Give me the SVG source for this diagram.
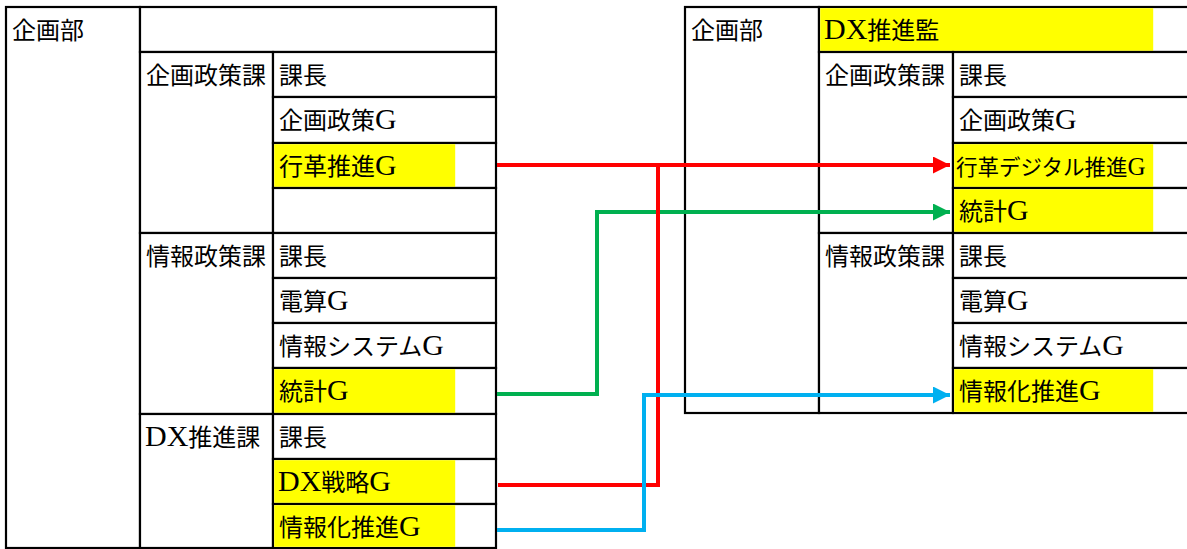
<svg xmlns="http://www.w3.org/2000/svg" width="1187" height="549" viewBox="0 0 1187 549">
<style>
.bg{fill:#fff}
.cell{fill:#fff;stroke:#000;stroke-width:2.2}
.hl{fill:#ffff00}
.t{font-family:"Liberation Serif","Noto Sans CJK JP",serif;font-size:24px;fill:#000}
.l{font-size:30px}
.con{fill:none;stroke-width:4;stroke-linejoin:miter}
</style>
<defs>
<marker id="arR" viewBox="0 0 10 10" refX="10" refY="5" markerUnits="userSpaceOnUse" markerWidth="18" markerHeight="17" orient="auto"><path d="M0,0 L10,5 L0,10 Z" fill="#ff0000"/></marker>
<marker id="arG" viewBox="0 0 10 10" refX="10" refY="5" markerUnits="userSpaceOnUse" markerWidth="18" markerHeight="17" orient="auto"><path d="M0,0 L10,5 L0,10 Z" fill="#00b050"/></marker>
<marker id="arB" viewBox="0 0 10 10" refX="10" refY="5" markerUnits="userSpaceOnUse" markerWidth="18" markerHeight="17" orient="auto"><path d="M0,0 L10,5 L0,10 Z" fill="#00b0f0"/></marker>
</defs>
<rect class="bg" x="0" y="0" width="1187" height="549"/>

<!-- LEFT TABLE -->
<g id="L-kikakubu"><rect class="cell" x="6" y="7" width="134" height="541"/><text class="t" x="12" y="39">企画部</text></g>
<g id="L-top"><rect class="cell" x="140" y="7" width="356" height="45"/></g>

<g id="L-kikakuseisakuka"><rect class="cell" x="140" y="52" width="133" height="181"/><text class="t" x="146" y="84">企画政策課</text></g>
<g id="L-k-kacho"><rect class="cell" x="273" y="52" width="223" height="45"/><text class="t" x="279" y="84">課長</text></g>
<g id="L-k-kikakuG"><rect class="cell" x="273" y="97" width="223" height="46"/><text class="t" x="279" y="129">企画政策<tspan class="l">G</tspan></text></g>
<g id="L-gyokakuG"><rect class="cell" x="273" y="143" width="223" height="45"/><rect class="hl" x="274.2" y="144.2" width="181" height="42.6"/><text class="t" x="279" y="175">行革推進<tspan class="l">G</tspan></text></g>
<g id="L-k-empty"><rect class="cell" x="273" y="188" width="223" height="45"/></g>

<g id="L-johoseisakuka"><rect class="cell" x="140" y="233" width="133" height="181"/><text class="t" x="146" y="265">情報政策課</text></g>
<g id="L-j-kacho"><rect class="cell" x="273" y="233" width="223" height="45"/><text class="t" x="279" y="265">課長</text></g>
<g id="L-densanG"><rect class="cell" x="273" y="278" width="223" height="45"/><text class="t" x="279" y="310">電算<tspan class="l">G</tspan></text></g>
<g id="L-johosysG"><rect class="cell" x="273" y="323" width="223" height="45"/><text class="t" x="279" y="355">情報システム<tspan class="l">G</tspan></text></g>
<g id="L-tokeiG"><rect class="cell" x="273" y="368" width="223" height="46"/><rect class="hl" x="274.2" y="369.2" width="181" height="43.6"/><text class="t" x="279" y="400">統計<tspan class="l">G</tspan></text></g>

<g id="L-dxka"><rect class="cell" x="140" y="414" width="133" height="134"/><text class="t" x="145" y="446"><tspan class="l">DX</tspan>推進課</text></g>
<g id="L-d-kacho"><rect class="cell" x="273" y="414" width="223" height="45"/><text class="t" x="279" y="446">課長</text></g>
<g id="L-dxsenryakuG"><rect class="cell" x="273" y="459" width="223" height="45"/><rect class="hl" x="274.2" y="460.2" width="181" height="42.6"/><text class="t" x="278" y="491"><tspan class="l">DX</tspan>戦略<tspan class="l">G</tspan></text></g>
<g id="L-johokaG"><rect class="cell" x="273" y="504" width="223" height="44"/><rect class="hl" x="274.2" y="505.2" width="181" height="41.6"/><text class="t" x="279" y="536">情報化推進<tspan class="l">G</tspan></text></g>

<!-- RIGHT TABLE -->
<g id="R-kikakubu"><rect class="cell" x="685" y="7" width="134" height="406"/><text class="t" x="691" y="39">企画部</text></g>
<g id="R-dxkan"><rect class="cell" x="819" y="7" width="390" height="45"/><rect class="hl" x="820.2" y="8.2" width="333" height="42.6"/><text class="t" x="824" y="39"><tspan class="l">DX</tspan>推進監</text></g>

<g id="R-kikakuseisakuka"><rect class="cell" x="819" y="52" width="134" height="181"/><text class="t" x="825" y="84">企画政策課</text></g>
<g id="R-k-kacho"><rect class="cell" x="953" y="52" width="256" height="45"/><text class="t" x="959" y="84">課長</text></g>
<g id="R-k-kikakuG"><rect class="cell" x="953" y="97" width="256" height="46"/><text class="t" x="959" y="129">企画政策<tspan class="l">G</tspan></text></g>
<g id="R-gyokakuDigitalG"><rect class="cell" x="953" y="143" width="256" height="45"/><rect class="hl" x="954.2" y="144.2" width="199" height="42.6"/><text class="t" x="956" y="175" style="font-size:21.5px">行革デジタル推進<tspan style="font-size:25px">G</tspan></text></g>
<g id="R-tokeiG"><rect class="cell" x="953" y="188" width="256" height="45"/><rect class="hl" x="954.2" y="189.2" width="199" height="42.6"/><text class="t" x="959" y="220">統計<tspan class="l">G</tspan></text></g>

<g id="R-johoseisakuka"><rect class="cell" x="819" y="233" width="134" height="180"/><text class="t" x="825" y="265">情報政策課</text></g>
<g id="R-j-kacho"><rect class="cell" x="953" y="233" width="256" height="45"/><text class="t" x="959" y="265">課長</text></g>
<g id="R-densanG"><rect class="cell" x="953" y="278" width="256" height="45"/><text class="t" x="959" y="310">電算<tspan class="l">G</tspan></text></g>
<g id="R-johosysG"><rect class="cell" x="953" y="323" width="256" height="45"/><text class="t" x="959" y="355">情報システム<tspan class="l">G</tspan></text></g>
<g id="R-johokaG"><rect class="cell" x="953" y="368" width="256" height="45"/><rect class="hl" x="954.2" y="369.2" width="199" height="42.6"/><text class="t" x="959" y="400">情報化推進<tspan class="l">G</tspan></text></g>

<!-- CONNECTORS -->
<g id="connectors">
<path class="con" stroke="#00b050" d="M497,394 H597 V212 H950" marker-end="url(#arG)"/>
<path class="con" stroke="#ff0000" d="M498,485 H658 V165"/>
<path class="con" stroke="#ff0000" d="M497,165 H950" marker-end="url(#arR)"/>
<path class="con" stroke="#00b0f0" d="M497,530 H644 V395 H950" marker-end="url(#arB)"/>
</g>
</svg>
